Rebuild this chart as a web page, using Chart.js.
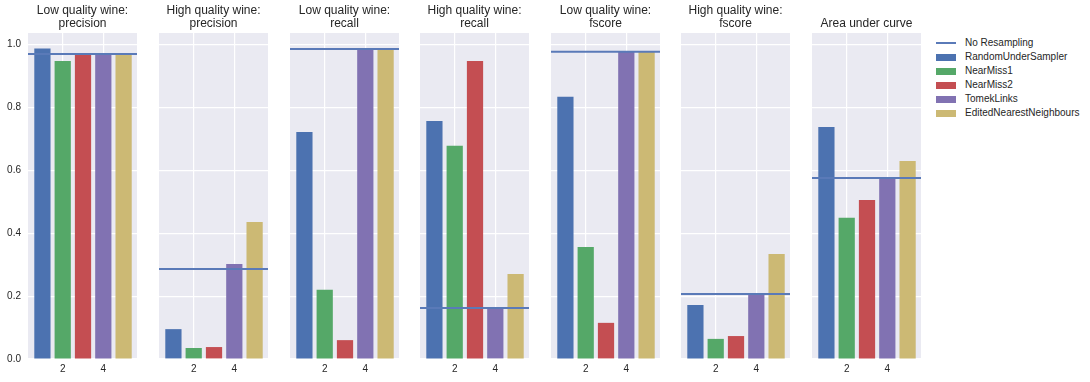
<!DOCTYPE html>
<html>
<head>
<meta charset="utf-8">
<script src="https://cdn.jsdelivr.net/npm/chart.js@4.4.1/dist/chart.umd.min.js"></script>
<style>
  body { margin: 0; background: #fff; width: 1090px; height: 382px; overflow: hidden; position: relative; font-family: "Liberation Sans", Arial, sans-serif; }
  canvas.panel { position: absolute; top: 0; }
  #legend { position: absolute; left: 936px; top: 36px; font-size: 10px; color: #262626; }
  .row { position: relative; height: 14px; line-height: 14px; }
  .swatch { position: absolute; left: 0; width: 20px; }
  .label { position: absolute; left: 29px; white-space: nowrap; }
</style>
</head>
<body>
<div id="legend"></div>
<script>
const panelTitles = [
    ['Low quality wine:', 'precision'],
    ['High quality wine:', 'precision'],
    ['Low quality wine:', 'recall'],
    ['High quality wine:', 'recall'],
    ['Low quality wine:', 'fscore'],
    ['High quality wine:', 'fscore'],
    ['Area under curve']
];
const samplers = ['RandomUnderSampler', 'NearMiss1', 'NearMiss2', 'TomekLinks', 'EditedNearestNeighbours'];
const samplerColors = ['#4c72b0', '#55a868', '#c44e52', '#8172b2', '#ccb974'];
const lineColor = '#5a7ab8';

// one value per panel
const randomUnderSampler = [0.988, 0.095, 0.722, 0.757, 0.834, 0.172, 0.738];
const nearMiss1 = [0.948, 0.035, 0.220, 0.678, 0.356, 0.064, 0.449];
const nearMiss2 = [0.968, 0.038, 0.060, 0.948, 0.115, 0.073, 0.506];
const tomekLinks = [0.969, 0.302, 0.985, 0.162, 0.979, 0.209, 0.576];
const editedNearestNeighbours = [0.969, 0.436, 0.984, 0.270, 0.977, 0.334, 0.630];
const noResampling = [0.970, 0.286, 0.986, 0.162, 0.977, 0.207, 0.576];

const yTicks = [0, 0.2, 0.4, 0.6, 0.8, 1.0];
const xTicks = [2, 4];
const xMin = 0.29, xMax = 5.66;

const panelLefts = [28, 159, 290, 420, 551, 681, 812];
const panelWidth = 109;
const textColor = '#262626';
const fontFamily = '"Liberation Sans", Arial, sans-serif';

const bgPlugin = {
    id: 'panelBg',
    beforeDraw(chart) {
        const a = chart.chartArea;
        const ctx = chart.ctx;
        ctx.save();
        ctx.fillStyle = '#eaeaf2';
        ctx.fillRect(a.left, a.top, a.right - a.left, a.bottom - a.top);
        ctx.restore();
    }
};

const titlePlugin = {
    id: 'panelTitle',
    afterDraw(chart, args, opts) {
        const a = chart.chartArea;
        const ctx = chart.ctx;
        const lines = opts.lines || [];
        ctx.save();
        ctx.fillStyle = textColor;
        ctx.font = '12px ' + fontFamily;
        ctx.textAlign = 'center';
        ctx.textBaseline = 'middle';
        const cx = (a.left + a.right) / 2;
        lines.forEach((t, i) => {
            const y = 24 - (lines.length - 1 - i) * 13;
            ctx.fillText(t, cx, y);
        });
        ctx.restore();
    }
};

const allSeries = [randomUnderSampler, nearMiss1, nearMiss2, tomekLinks, editedNearestNeighbours];

panelTitles.forEach((title, p) => {
    const canvas = document.createElement('canvas');
    canvas.className = 'panel';
    canvas.style.left = (panelLefts[p] - 28) + 'px';
    canvas.style.width = (panelWidth + 56) + 'px';
    canvas.style.height = '382px';
    canvas.width = panelWidth + 56;
    canvas.height = 382;
    document.body.appendChild(canvas);

    const barData = allSeries.map((s, i) => ({ x: i + 1, y: s[p] }));

    new Chart(canvas.getContext('2d'), {
        type: 'bar',
        data: {
            datasets: [
                {
                    type: 'line',
                    data: [{ x: xMin, y: noResampling[p] }, { x: xMax, y: noResampling[p] }],
                    borderColor: lineColor,
                    borderWidth: 2,
                    pointRadius: 0,
                    order: 0
                },
                {
                    type: 'bar',
                    data: barData,
                    backgroundColor: samplerColors,
                    barPercentage: 1,
                    categoryPercentage: 0.8,
                    order: 1
                }
            ]
        },
        options: {
            responsive: false,
            animation: false,
            layout: { padding: { top: 33, left: 0, right: 28, bottom: 0 } },
            plugins: {
                legend: { display: false },
                tooltip: { enabled: false },
                panelTitle: { lines: title }
            },
            scales: {
                x: {
                    type: 'linear',
                    min: xMin,
                    max: xMax,
                    offset: false,
                    afterBuildTicks: (scale) => { scale.ticks = xTicks.map(v => ({ value: v })); },
                    afterFit: (scale) => { scale.height = 23; },
                    grid: { color: '#ffffff', lineWidth: 1.2, drawTicks: false, offset: false },
                    border: { display: false },
                    ticks: { color: textColor, font: { size: 10, family: fontFamily }, padding: 4, maxRotation: 0 }
                },
                y: {
                    min: 0,
                    max: 1.037,
                    afterBuildTicks: (scale) => { scale.ticks = yTicks.map(v => ({ value: v })); },
                    afterFit: (scale) => { scale.width = 28; },
                    grid: { color: '#ffffff', lineWidth: 1.2, drawTicks: false },
                    border: { display: false },
                    ticks: {
                        display: p === 0,
                        color: textColor,
                        font: { size: 10, family: fontFamily },
                        padding: 7,
                        callback: (v) => v.toFixed(1)
                    }
                }
            }
        },
        plugins: [bgPlugin, titlePlugin]
    });
});

// legend
const legend = document.getElementById('legend');
const legendItems = [{ name: 'No Resampling', color: lineColor, line: true }]
    .concat(samplers.map((s, i) => ({ name: s, color: samplerColors[i], line: false })));
legendItems.forEach(item => {
    const row = document.createElement('div');
    row.className = 'row';
    const sw = document.createElement('div');
    sw.className = 'swatch';
    sw.style.background = item.color;
    sw.style.height = item.line ? '2px' : '7px';
    sw.style.top = item.line ? '6px' : '3.5px';
    const lb = document.createElement('div');
    lb.className = 'label';
    lb.textContent = item.name;
    row.appendChild(sw);
    row.appendChild(lb);
    legend.appendChild(row);
});
</script>
</body>
</html>
